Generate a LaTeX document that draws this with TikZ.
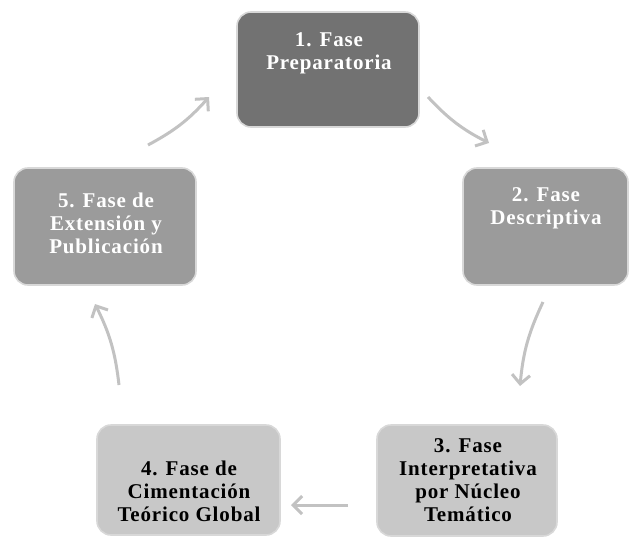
\documentclass[tikz,border=0pt]{standalone}
\usepackage{fontspec}
\setmainfont{Liberation Serif}[LetterSpace=4]
\usetikzlibrary{arrows.meta}
\definecolor{boxA}{HTML}{727272}
\definecolor{boxB}{HTML}{9B9B9B}
\definecolor{boxC}{HTML}{C8C8C8}
\definecolor{arrowgray}{HTML}{C2C2C2}
\definecolor{edgegray}{HTML}{D8D8D8}
\begin{document}
\begin{tikzpicture}[x=1pt,y=-1pt,
  phase/.style={draw=edgegray,line width=1.6pt,rounded corners=14pt},
  phasetext/.style={align=center,font=\fontsize{21}{23}\selectfont\bfseries,inner sep=0pt},
  cyc/.style={draw=arrowgray,line width=3pt,-{Straight Barb[length=9pt,width=18pt,line width=3pt]}}]
\useasboundingbox (0,0) rectangle (632,538);
% boxes
\path[phase,fill=boxA] (237,12) rectangle (419,127) coordinate (b1);
\path[phase,fill=boxB] (463,168) rectangle (628,285) coordinate (b2);
\path[phase,fill=boxC] (377,425) rectangle (557,536) coordinate (b3);
\path[phase,fill=boxC] (97,425) rectangle (280,535) coordinate (b4);
\path[phase,fill=boxB] (14,168) rectangle (196,285) coordinate (b5);
% texts
\node[phasetext,text=white] (t1) at (329,53) {1. Fase\\Preparatoria};
\node[phasetext,text=white] (t2) at (546,208) {2. Fase\\Descriptiva};
\node[phasetext,text=black] (t3) at (468,480) {3. Fase\\Interpretativa\\por Núcleo\\Temático};
\node[phasetext,text=black] (t4) at (189,491) {4. Fase de\\Cimentación\\Teórico Global};
\node[phasetext,text=white] (t5) at (106,223) {5. Fase de\\Extensión y\\Publicación};
% arrow end points
\coordinate (a1s) at (428,97);  \coordinate (a1e) at (489,143);
\coordinate (a2s) at (543,302); \coordinate (a2e) at (520,386);
\coordinate (a3s) at (348,505); \coordinate (a3e) at (291,505);
\coordinate (a4s) at (119,385); \coordinate (a4e) at (95,304);
\coordinate (a5s) at (148,145); \coordinate (a5e) at (209,97);
\draw[cyc] (a1s) to[bend right=10] (a1e);
\draw[cyc] (a2s) to[bend right=10] (a2e);
\draw[cyc] (a3s) -- (a3e);
\draw[cyc] (a4s) to[bend right=10] (a4e);
\draw[cyc] (a5s) to[bend right=10] (a5e);
\end{tikzpicture}
\end{document}
